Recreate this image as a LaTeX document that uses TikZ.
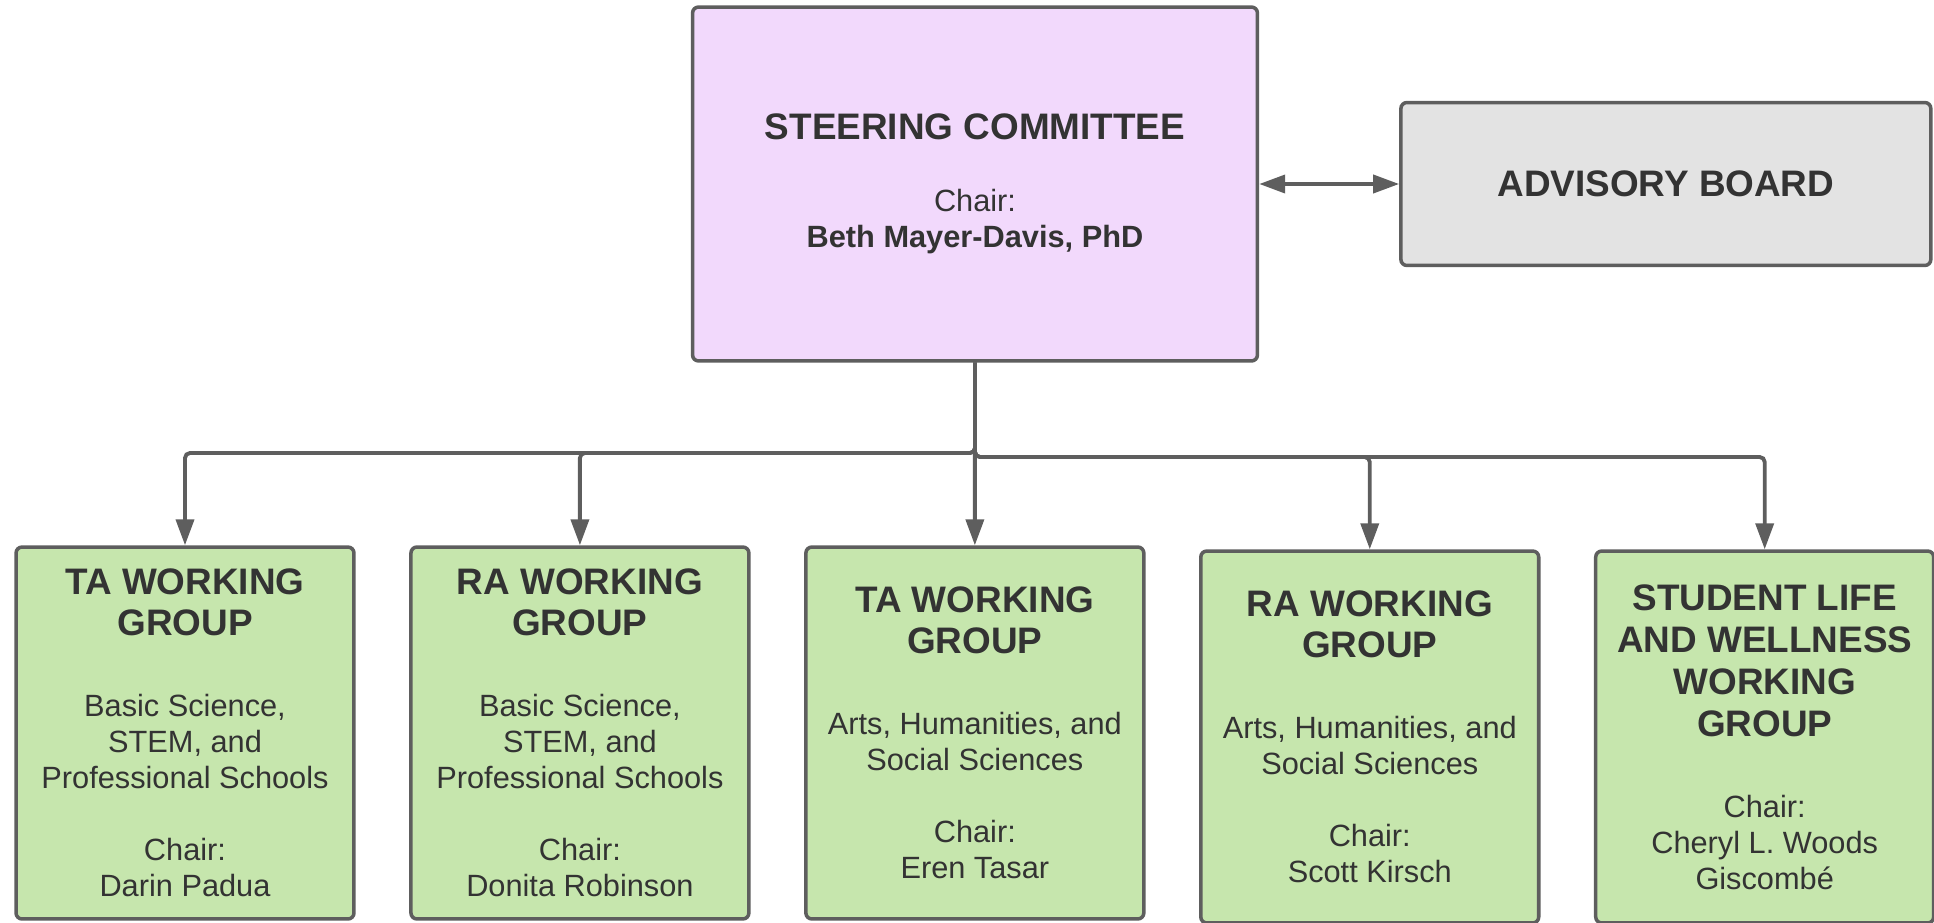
\documentclass[tikz,border=0pt]{standalone}
\usepackage{fontspec}
\setmainfont{Liberation Sans}
\usepackage{tikz}
\usetikzlibrary{arrows.meta, positioning}

\definecolor{steerfill}{HTML}{F2D9FC}
\definecolor{boardfill}{HTML}{E3E3E3}
\definecolor{groupfill}{HTML}{C6E6AD}
\definecolor{edgegray}{HTML}{5E5E5E}
\definecolor{inkgray}{HTML}{333333}
\newcommand{\hd}{\fontsize{21}{23}\selectfont\bfseries}

\begin{document}
\begin{tikzpicture}[
            x = 0.02cm,
            y = -0.02cm,
            > = {Triangle[length=0.52cm, width=0.36cm]},
            box/.style = {draw=edgegray, line width=2pt, rounded corners=0.12cm,
                align=center, text=inkgray, inner sep=0pt,
                font=\fontsize{17.5}{20.5}\selectfont},
            steer/.style = {box, fill=steerfill, minimum width=11.3cm, minimum height=7.08cm},
            board/.style = {box, fill=boardfill, minimum width=10.6cm, minimum height=3.26cm},
            group/.style = {box, fill=groupfill, minimum width=6.76cm, minimum height=7.44cm},
            link/.style = {->, draw=edgegray, line width=2.2pt, rounded corners=0.1cm},
            node distance = 7.9cm,
            on grid
        ]
        \useasboundingbox (0,0) rectangle (1934,923);

        \node[steer] (SC) at (975,184) {{\hd STEERING COMMITTEE}\\[0.73cm]Chair:\\{\bfseries Beth Mayer-Davis, PhD}};
        \node[board, right=13.82cm of SC] (AB) {{\hd ADVISORY BOARD}};

        \node[group] (TA1) at (185,733) {{\hd TA WORKING}\\[0.1cm]{\hd GROUP}\\[0.9cm]Basic Science,\\STEM, and\\Professional Schools\\[0.72cm]Chair:\\Darin Padua};
        \node[group, right=of TA1] (RA1) {{\hd RA WORKING}\\[0.1cm]{\hd GROUP}\\[0.9cm]Basic Science,\\STEM, and\\Professional Schools\\[0.72cm]Chair:\\Donita Robinson};
        \node[group, right=of RA1] (TA2) {{\hd TA WORKING}\\[0.1cm]{\hd GROUP}\\[0.9cm]Arts, Humanities, and\\Social Sciences\\[0.72cm]Chair:\\Eren Tasar};
        \node[group, right=of TA2, yshift=-0.08cm] (RA2) {{\hd RA WORKING}\\[0.1cm]{\hd GROUP}\\[0.9cm]Arts, Humanities, and\\Social Sciences\\[0.72cm]Chair:\\Scott Kirsch};
        \node[group, right=of RA2] (SLW) {{\hd STUDENT LIFE}\\[0.12cm]{\hd AND WELLNESS}\\[0.12cm]{\hd WORKING}\\[0.12cm]{\hd GROUP}\\[0.9cm]Chair:\\Cheryl L. Woods\\Giscomb\'e};

        \coordinate (busL) at (975,453);
        \coordinate (busR) at (975,457);

        \draw[link, <->] (SC.east) -- (AB.west);
        \draw[link] (SC.south) -- (TA2.north);
        \draw[link] (SC.south) -- (busL) -| (TA1.north);
        \draw[link] (SC.south) -- (busL) -| (RA1.north);
        \draw[link] (SC.south) -- (busR) -| (RA2.north);
        \draw[link] (SC.south) -- (busR) -| (SLW.north);
    \end{tikzpicture}
\end{document}
